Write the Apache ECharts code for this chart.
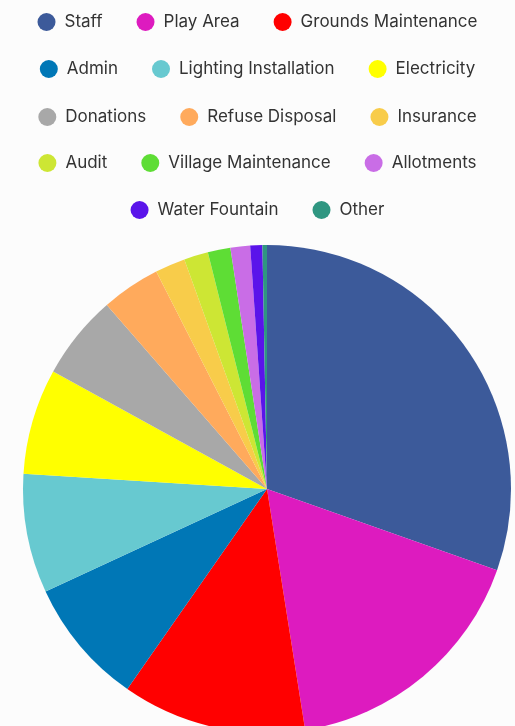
<!DOCTYPE html>
<html>
<head>
<meta charset="utf-8">
<script src="https://cdn.jsdelivr.net/npm/echarts@6/dist/echarts.min.js"></script>
<style>
html,body{margin:0;padding:0;background:#fcfcfc;}
#chart{width:515px;height:726px;}
</style>
</head>
<body>
<div id="chart"></div>
<script>
const categories = ["Staff","Play Area","Grounds Maintenance","Admin","Lighting Installation","Electricity","Donations","Refuse Disposal","Insurance","Audit","Village Maintenance","Allotments","Water Fountain","Other"];
const values = [30.4,17.1,12.2,8.4,7.9,7.0,5.6,3.9,2.0,1.6,1.5,1.3,0.8,0.3];
const colors = ["#3c5a9a","#dd1bbf","#ff0000","#0077b6","#67c9d0","#ffff00","#a8a8a8","#ffaa5c","#f8cc4a","#cde634","#5edd35","#c96de6","#5a14ea","#2f9681"];
const legendRows = [[0,1,2],[3,4,5],[6,7,8],[9,10,11],[12,13]];

const chart = echarts.init(document.getElementById('chart'));
const rowY = [22,69,117,163,210];
const legends = legendRows.map((row,i)=>({
  data: row.map(k=>categories[k]),
  left: 'center',
  top: rowY[i]-11,
  padding: [2,0,2,17],
  orient: 'horizontal',
  icon: 'circle',
  itemWidth: 18,
  itemHeight: 18,
  itemGap: 34,
  selectedMode: false,
  textStyle: {fontFamily:'Inter', fontSize:17, color:'#333', padding:[0,0,0,4]}
}));
chart.setOption({
  backgroundColor: '#fcfcfc',
  color: colors,
  animation: false,
  legend: legends,
  series: [{
    type: 'pie',
    center: [267,489],
    radius: [0,244],
    startAngle: 90,
    clockwise: true,
    label: {show:false},
    labelLine: {show:false},
    itemStyle: {borderWidth:0},
    emphasis: {disabled:true},
    data: categories.map((c,i)=>({name:c, value:values[i]}))
  }]
});
</script>
</body>
</html>
